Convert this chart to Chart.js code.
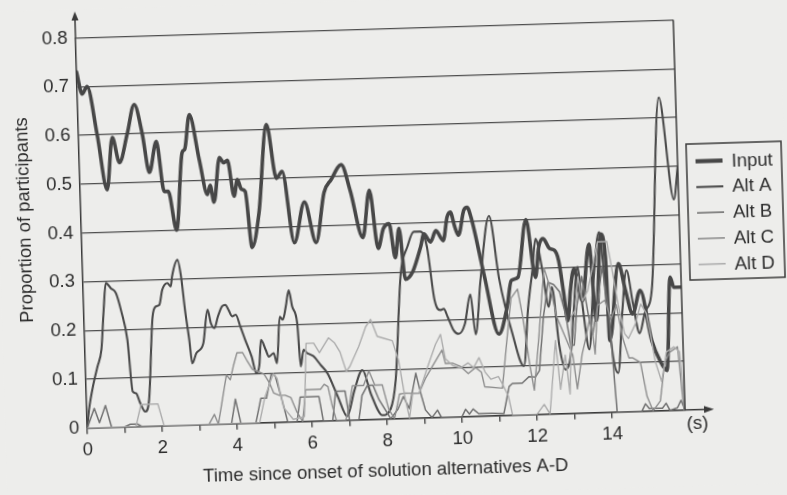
<!DOCTYPE html>
<html><head><meta charset="utf-8">
<script src="https://cdn.jsdelivr.net/npm/chart.js@4.4.1/dist/chart.umd.min.js"></script>
<style>
html,body{margin:0;padding:0;background:#ededeb;overflow:hidden;width:787px;height:495px;}
#wrap{position:absolute;left:0;top:0;width:787px;height:495px;transform:rotate(-1.73deg);transform-origin:393.5px 247.5px;}
canvas{display:block;}
</style></head><body>
<div id="wrap"><canvas id="c" width="787" height="495"></canvas></div>
<script>
// [time (s), proportion]
const inputPts = [[0,0.73],[0.13,0.685],[0.27,0.70],[0.5,0.6],[0.72,0.487],[0.9,0.594],[1.07,0.542],[1.3,0.6],[1.51,0.66],[1.7,0.6],[1.86,0.52],[2.07,0.583],[2.24,0.48],[2.35,0.48],[2.54,0.40],[2.75,0.559],[2.82,0.565],[2.97,0.636],[3.2,0.543],[3.39,0.471],[3.47,0.49],[3.56,0.455],[3.74,0.546],[3.85,0.535],[3.95,0.54],[4.1,0.466],[4.2,0.50],[4.3,0.48],[4.4,0.475],[4.54,0.36],[4.75,0.43],[5.02,0.611],[5.24,0.50],[5.4,0.514],[5.67,0.367],[5.97,0.45],[6.25,0.366],[6.5,0.468],[6.7,0.494],[6.98,0.524],[7.2,0.47],[7.5,0.373],[7.71,0.47],[7.9,0.35],[8.05,0.39],[8.21,0.40],[8.35,0.33],[8.47,0.39],[8.6,0.285],[8.8,0.3],[9.03,0.35],[9.13,0.377],[9.3,0.36],[9.45,0.383],[9.64,0.362],[9.76,0.41],[9.85,0.42],[9.96,0.389],[10.05,0.372],[10.21,0.423],[10.3,0.429],[10.4,0.408],[10.7,0.29],[11.05,0.167],[11.29,0.222],[11.42,0.276],[11.6,0.282],[11.86,0.40],[12.07,0.281],[12.18,0.343],[12.3,0.36],[12.47,0.339],[12.6,0.335],[12.7,0.314],[12.8,0.253],[12.9,0.19],[12.99,0.252],[13.1,0.296],[13.3,0.23],[13.52,0.346],[13.66,0.189],[13.84,0.366],[13.95,0.318],[14.0,0.147],[14.29,0.304],[14.46,0.248],[14.63,0.2],[14.85,0.248],[15.12,0.144],[15.32,0.103],[15.5,0.082],[15.66,0.273],[15.75,0.252],[15.95,0.252]];

const altAPts = [[0,0],[0.06,0.037],[0.2,0.09],[0.32,0.125],[0.44,0.16],[0.53,0.24],[0.61,0.296],[0.74,0.285],[0.87,0.275],[1.0,0.237],[1.14,0.178],[1.24,0.072],[1.33,0.068],[1.43,0.048],[1.56,0.03],[1.67,0.054],[1.83,0.224],[1.93,0.245],[2.02,0.248],[2.11,0.279],[2.25,0.292],[2.34,0.285],[2.38,0.305],[2.54,0.339],[2.62,0.305],[2.7,0.236],[2.79,0.174],[2.85,0.126],[2.97,0.147],[3.16,0.166],[3.3,0.235],[3.38,0.207],[3.47,0.197],[3.57,0.22],[3.69,0.241],[3.78,0.244],[3.86,0.233],[3.95,0.22],[4.05,0.223],[4.16,0.199],[4.28,0.171],[4.44,0.136],[4.55,0.102],[4.64,0.119],[4.7,0.17],[4.82,0.149],[4.9,0.135],[5.03,0.142],[5.11,0.121],[5.22,0.216],[5.3,0.21],[5.39,0.237],[5.48,0.27],[5.56,0.236],[5.68,0.202],[5.74,0.113],[5.83,0.147],[5.92,0.14],[6.0,0.137],[6.09,0.133],[6.27,0.115],[6.45,0.097],[6.7,0.05],[6.94,0.008],[7.15,0.06],[7.38,0.102],[7.6,0.05],[7.88,0.008],[8.1,0.02],[8.26,0.079],[8.48,0.297],[8.68,0.352],[8.86,0.382],[9.04,0.382],[9.2,0.35],[9.36,0.241],[9.5,0.22],[9.6,0.222],[9.7,0.205],[9.85,0.177],[9.98,0.17],[10.15,0.19],[10.32,0.25],[10.43,0.168],[10.6,0.278],[10.88,0.41],[11.1,0.28],[11.4,0.17],[11.69,0.10],[11.85,0.22],[12.0,0.30],[12.1,0.36],[12.25,0.30],[12.4,0.22],[12.5,0.26],[12.65,0.14],[12.8,0.09],[12.95,0.12],[13.05,0.2],[13.2,0.3],[13.3,0.22],[13.45,0.13],[13.6,0.26],[13.8,0.37],[13.95,0.22],[14.1,0.1],[14.2,0.08],[14.35,0.2],[14.5,0.29],[14.65,0.22],[14.8,0.16],[14.95,0.2],[15.17,0.255],[15.5,0.642],[15.82,0.432],[15.95,0.5]];

const altBPts = [[0,0],[0.2,0.04],[0.33,0.01],[0.5,0.045],[0.65,0],[1.0,0],[1.15,0.005],[1.35,0.005],[1.45,0],[3.85,0],[3.97,0.05],[4.1,0],[4.5,0],[4.65,0.05],[4.8,0.05],[4.95,0.1],[5.05,0.095],[5.2,0.05],[5.35,0],[5.6,0],[5.7,0.05],[6.2,0.05],[6.3,0],[6.55,0],[6.65,0.06],[6.9,0.06],[7.0,0],[7.25,0],[7.35,0.05],[7.5,0.07],[7.65,0.07],[7.8,0.04],[7.95,0.02],[8.1,0],[8.3,0.02],[8.45,0.045],[8.6,0.02],[8.8,0.092],[8.92,0.05],[9.03,0.016],[9.2,0],[9.35,0.015],[9.45,0],[10.0,0],[10.1,0.015],[10.2,0.005],[10.3,0.015],[10.45,0.005],[10.8,0.005],[11.12,0.004],[11.28,0.059],[11.37,0.065],[11.63,0.065],[11.82,0.078],[11.99,0.077],[12.1,0.09],[12.25,0.2],[12.4,0.27],[12.55,0.265],[12.7,0.25],[12.85,0.2],[12.95,0.14],[13.05,0.14],[13.15,0.22],[13.3,0.28],[13.45,0.2],[13.55,0.16],[13.7,0.22],[13.85,0.3],[14.0,0.2],[14.14,0],[14.8,0],[14.9,0.015],[15.0,0.005],[15.35,0.005],[15.45,0.015],[15.55,0],[15.75,0.005],[15.85,0.02],[15.95,0]];

const altCPts = [[0,0],[3.25,0],[3.4,0.02],[3.5,0],[3.65,0.06],[3.75,0.1],[3.85,0.09],[3.95,0.12],[4.05,0.145],[4.2,0.145],[4.3,0.13],[4.45,0.11],[4.6,0.105],[4.75,0.1],[4.9,0.08],[5.0,0.06],[5.15,0.055],[5.3,0.055],[5.45,0.05],[5.6,0.02],[5.75,0],[5.85,0.065],[6.0,0.065],[6.25,0.065],[6.35,0.075],[6.45,0.07],[6.55,0.03],[6.65,0],[6.9,0],[7.0,0.03],[7.1,0.07],[7.4,0.07],[7.55,0.1],[7.7,0.07],[7.9,0.07],[8.05,0.02],[8.2,0],[8.35,0.05],[8.5,0.052],[8.87,0.05],[9.05,0.08],[9.25,0.105],[9.52,0.138],[9.6,0.11],[9.8,0.11],[10.0,0.103],[10.2,0.088],[10.4,0.1],[10.55,0.09],[10.63,0.06],[11.1,0.056],[11.25,0.15],[11.4,0.24],[11.58,0.258],[11.7,0.2],[11.85,0.1],[11.95,0.05],[12.1,0.15],[12.3,0.3],[12.45,0.26],[12.6,0.2],[12.8,0.16],[13.0,0.12],[13.1,0.05],[13.25,0.12],[13.35,0.15],[13.5,0.2],[13.6,0.12],[13.7,0.22],[13.9,0.23],[14.05,0.19],[14.2,0.22],[14.35,0.15],[14.5,0.11],[14.6,0.11],[14.8,0.1],[14.95,0.03],[15.1,0],[15.3,0.02],[15.45,0.1],[15.6,0.12],[15.8,0.13],[15.92,0]];

const altDPts = [[0,0],[1.3,0],[1.45,0.045],[1.9,0.045],[2.05,0],[4.6,0],[4.75,0.05],[5.0,0.1],[5.1,0.09],[5.25,0.03],[5.5,0.005],[5.8,0.01],[5.9,0.16],[6.1,0.16],[6.25,0.14],[6.5,0.17],[6.65,0.16],[6.8,0.14],[6.95,0.1],[7.05,0.11],[7.3,0.15],[7.5,0.19],[7.64,0.205],[7.8,0.17],[8.0,0.165],[8.2,0.16],[8.35,0.12],[8.5,0.04],[8.6,0],[8.7,0.05],[8.87,0.05],[9.1,0.1],[9.35,0.15],[9.49,0.17],[9.6,0.12],[9.8,0.105],[10.0,0.1],[10.2,0.11],[10.35,0.1],[10.5,0.12],[10.65,0.09],[10.8,0.075],[11.0,0.08],[11.1,0.065],[11.25,0.04],[11.35,0],[12.0,0],[12.2,0.02],[12.35,0],[12.55,0.15],[12.65,0.05],[12.8,0.12],[12.9,0.04],[13.0,0.2],[13.1,0.21],[13.2,0.28],[13.3,0.23],[13.45,0.25],[13.6,0.3],[13.75,0.35],[14.0,0.35],[14.1,0.3],[14.25,0.22],[14.4,0.16],[14.5,0.15],[14.7,0.18],[14.85,0.22],[15.0,0.2],[15.2,0.1],[15.35,0.06],[15.5,0.12],[15.7,0.13],[15.85,0.12],[15.95,0]];

const seriesNames = ['Input','Alt A','Alt B','Alt C','Alt D'];
const yTicks = [0,0.1,0.2,0.3,0.4,0.5,0.6,0.7,0.8];
const xLabelTicks = [0,2,4,6,8,10,12,14];
const xTitle = 'Time since onset of solution alternatives A-D';
const yTitle = 'Proportion of participants';
const unitLabel = '(s)';

const FONT = "'Liberation Sans', Arial, Helvetica, sans-serif";
const INK = '#3a3a3a';
const toXY = pts => pts.map(p => ({x:p[0], y:p[1]}));

const styles = [
  {color:'#474747', width:3.6, smooth:true},
  {color:'#4a4a4a', width:2.1, smooth:true},
  {color:'#727272', width:1.5, smooth:false},
  {color:'#8e8e8e', width:1.4, smooth:false},
  {color:'#adadad', width:1.4, smooth:false}
];
const allPts = [inputPts, altAPts, altBPts, altCPts, altDPts];
const datasets = allPts.map((pts,i) => ({
  label: seriesNames[i],
  data: toXY(pts),
  borderColor: styles[i].color,
  borderWidth: styles[i].width,
  pointRadius: 0,
  fill: false,
  cubicInterpolationMode: styles[i].smooth ? 'monotone' : 'default',
  tension: 0,
  borderJoinStyle: 'round',
  borderCapStyle: 'round'
})).reverse();

const bgPlugin = {
  id:'bg',
  beforeDraw(chart){
    const c = chart.ctx; c.save(); c.fillStyle = '#ededeb';
    c.fillRect(0,0,chart.width,chart.height); c.restore();
  }
};

const decoPlugin = {
  id:'deco',
  afterDraw(chart){
    const c = chart.ctx, a = chart.chartArea;
    c.save();
    c.strokeStyle = INK; c.fillStyle = INK; c.lineWidth = 1.5;
    // right frame line
    c.beginPath(); c.moveTo(a.right, a.top); c.lineTo(a.right, a.bottom); c.stroke();
    // y axis extension + arrow
    c.beginPath(); c.moveTo(a.left, a.top); c.lineTo(a.left, 8); c.stroke();
    c.beginPath(); c.moveTo(a.left, 2); c.lineTo(a.left-3.5, 11); c.lineTo(a.left+3.5, 11); c.closePath(); c.fill();
    // x axis extension + arrow
    c.beginPath(); c.moveTo(a.right, a.bottom); c.lineTo(702, a.bottom); c.stroke();
    c.beginPath(); c.moveTo(709, a.bottom); c.lineTo(699, a.bottom-3.5); c.lineTo(699, a.bottom+3.5); c.closePath(); c.fill();
    // text
    c.fillStyle = '#2c2c2c';
    c.font = '18.5px ' + FONT;
    c.textAlign = 'center'; c.textBaseline = 'middle';
    c.fillText(unitLabel, 692, 433);
    c.fillText(xTitle, 379, 471);
    c.save(); c.translate(25.5, 209); c.rotate(-Math.PI/2); c.fillText(yTitle, 0, 0); c.restore();
    // legend box
    const lx = 689, ly = 153, lw = 95, lh = 136;
    c.strokeStyle = INK; c.lineWidth = 1.5;
    c.strokeRect(lx, ly, lw, lh);
    const ds = chart.data.datasets.slice().reverse();
    c.textAlign = 'left';
    ds.forEach((d, i) => {
      const yy = 170.5 + i*25.8;
      c.strokeStyle = d.borderColor; c.lineWidth = Math.max(d.borderWidth, 1.6) + (i===0?0.6:0);
      c.beginPath(); c.moveTo(698, yy); c.lineTo(725, yy); c.stroke();
      c.fillStyle = '#2c2c2c';
      c.fillText(d.label, 734, yy+1);
    });
    c.restore();
  }
};

new Chart(document.getElementById('c'), {
  type:'line',
  data:{datasets},
  options:{
    responsive:false, animation:false, devicePixelRatio:1,
    layout:{padding:{left:32, right:107, top:28.5, bottom:36.3}},
    plugins:{legend:{display:false}, tooltip:{enabled:false}},
    scales:{
      x:{
        type:'linear', min:0, max:15.95,
        afterFit(s){ s.height = 40; },
        afterBuildTicks(s){ s.ticks = s.ticks.filter(t => Math.abs(t.value - Math.round(t.value)) < 1e-6 && t.value <= 15); },
        ticks:{stepSize:1, autoSkip:false, maxRotation:0, padding:5, color:'#2c2c2c',
          font:{family:FONT, size:18.5},
          callback:v => xLabelTicks.includes(v) ? String(v) : ''},
        grid:{drawOnChartArea:false, drawTicks:true, tickLength:6, color:INK, lineWidth:1.3},
        border:{display:true, color:INK, width:1.5}
      },
      y:{
        min:0, max:0.8,
        afterFit(s){ s.width = 50; },
        afterBuildTicks(s){ s.ticks = yTicks.map(v => ({value:v})); },
        ticks:{padding:8, color:'#2c2c2c', font:{family:FONT, size:18.5},
          callback:v => v === 0 ? '0' : Number(v).toFixed(1)},
        grid:{drawTicks:false, color:'#4e4e4e', lineWidth:1.2},
        border:{display:true, color:INK, width:1.5}
      }
    }
  },
  plugins:[bgPlugin, decoPlugin]
});
</script>
</body></html>
